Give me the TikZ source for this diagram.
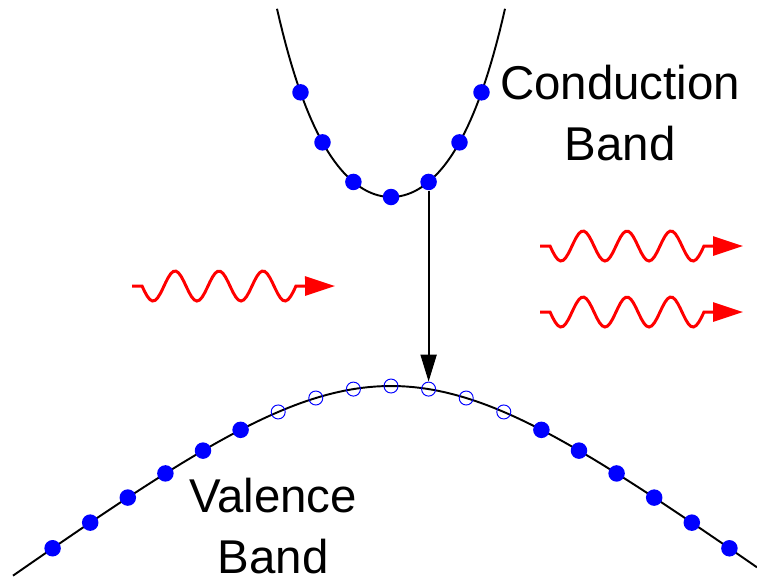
\documentclass[tikz,border=0pt]{standalone}
\usepackage{fontspec}
\setmainfont{Liberation Sans}
\usetikzlibrary{arrows.meta}
\definecolor{colorElectron}{HTML}{0000FF}
\definecolor{colorPhoton}{HTML}{FF0000}

\begin{document}
\begin{tikzpicture}[x=0.02cm, y=-0.02cm, font=\fontsize{27}{34.7}\selectfont,
        band/.style={black, line width=1.1pt},
        label/.style={align=center, inner sep=0pt},
        filled/.style={circle, fill=colorElectron, inner sep=0pt, minimum size=0.33cm},
        hole/.style={circle, draw=colorElectron, line width=0.55pt, inner sep=0pt, minimum size=0.28cm},
        photon/.style={colorPhoton, line width=1.7pt, -{Triangle[length=0.6cm, width=0.38cm]}},
        trans/.style={black, line width=1.1pt, -{Triangle[length=0.54cm, width=0.32cm]}}]
        \useasboundingbox (0,0) rectangle (757,582);
        \draw[band] plot[domain=-114:114, samples=80] ({391+\x}, {197-62*(cosh(\x/55)-1)});
        \draw[band] plot[domain=-378:366, samples=120] ({391+\x}, {386+114*ln(cosh(\x/161))});
        \foreach \d [count=\i] in {-90.5,-68.5,-37.6,0,37.6,68.5,90.5}
            \node[filled] (c\i) at ({391+\d}, {197-62*(cosh(\d/55)-1)}) {};
        \foreach \k in {-9,...,-4,4,5,...,9}
            \node[filled] (v\k) at ({391+37.6*\k}, {386+114*ln(cosh(37.6*\k/161))}) {};
        \foreach \k in {-3,...,3}
            \node[hole] (v\k) at ({391+37.6*\k}, {386+114*ln(cosh(37.6*\k/161))}) {};
        \draw[trans] (c5) -- (v1);
        \foreach \px/\py in {132/286, 540/246, 540/312}
            \draw[photon, shift={(\px,\py)}] (0,0) -- (10,0)
                -- plot[domain=0:3.5, samples=60] ({10+44*\x}, {15*sin(360*\x)}) -- (203,0);
        \node[label] (cb) at (620,113) {Conduction\\Band};
        \node[label] (vb) at (273,526) {Valence\\Band};
\end{tikzpicture}
\end{document}
